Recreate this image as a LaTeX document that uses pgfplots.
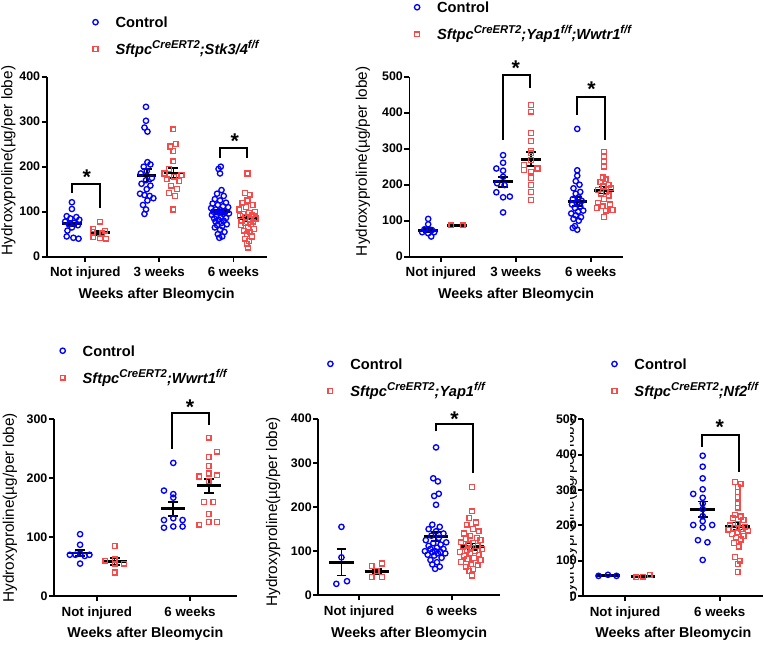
\documentclass[border=0pt]{standalone}
\usepackage{fontspec}
\setmainfont{Liberation Sans}
\usepackage{pgfplots}
\pgfplotsset{compat=1.18}

\definecolor{ctrl}{RGB}{0,0,255}
\definecolor{kored}{RGB}{245,75,75}
\newcommand{\sups}[1]{\raisebox{4.2pt}{\fontsize{8.5}{9}\selectfont #1}}

\tikzset{sig/.style={font=\bfseries\fontsize{16}{16}\selectfont, inner sep=0pt, yshift=-3.4pt}}

\pgfplotsset{
  hp/.style={
    scale only axis,
    anchor=south west,
    axis lines=left,
    axis line style={-, line width=1.3pt},
    tick align=outside,
    major tick length=3.75pt,
    tick style={line width=1.3pt, black},
    ymin=0,
    xtick={0,1,2},
    ticklabel style={font=\bfseries\fontsize{9.3}{10}\selectfont},
    yticklabel style={inner xsep=1pt},
    xticklabel style={font=\bfseries\fontsize{10}{11}\selectfont, inner ysep=4pt},
    /pgf/number format/assume math mode=true,
    xlabel={Weeks after Bleomycin},
    xlabel style={font=\bfseries\fontsize{10.7}{12}\selectfont, at={(axis description cs:0.5,0)}, anchor=center, yshift=-28.5pt},
    ylabel={Hydroxyproline(µg/per lobe)},
    ylabel style={font=\fontsize{11.5}{13}\selectfont, anchor=center},
    clip=false,
    legend cell align=left,
    legend image code/.code={\path[draw=none,fill=none] (-2.5pt,-5pt) rectangle (15pt,5pt); \draw[##1] plot coordinates {(0pt,1pt)};},
    legend style={draw=none, fill=none, anchor=north west, inner sep=0pt,
      font=\bfseries\fontsize{11}{13}\selectfont, row sep=10.25pt,
      nodes={inner sep=0pt, text height=8pt, text depth=2pt}},
  },
  ctl/.style={only marks, mark=o, mark size=2pt, ctrl, line width=1pt},
  kop/.style={only marks, mark=square, mark size=1.8pt, kored, line width=1pt},
  meanl/.style={forget plot, black, line width=2.2pt, mark=none, unbounded coords=jump},
  sembar/.style={forget plot, draw=none, mark=none, error bars/.cd, y dir=both, y explicit, error mark options={rotate=90, mark size=3.7pt, line width=1.2pt, black}, error bar style={line width=1.2pt, black}},
  bracket/.style={forget plot, black, line width=1.5pt, mark=none},
}

\begin{document}
\begin{tikzpicture}
\useasboundingbox (0,0) rectangle (573pt,483pt);

% ---------- panel 1: Stk3/4 ----------
\begin{axis}[hp, at={(35.03pt,290.48pt)}, width=165pt, height=135pt,
  xmin=-0.52, xmax=2.45, ymax=400, ytick={0,100,...,400},
  xticklabels={Not injured,3 weeks,6 weeks},
  ylabel style={at={(axis description cs:-0.1745,0.534)}},
  legend style={at={(axis description cs:0.2055,1.334)}}]
\addplot[ctl] coordinates {
 (-0.18,121) (-0.18,106) (-0.25,90) (-0.12,88) (-0.20,85) (-0.08,82) (-0.27,78) (-0.15,75)
 (-0.22,72) (-0.10,70) (-0.18,65) (-0.24,58) (-0.25,45) (-0.16,42) (-0.09,40)
 (0.82,333) (0.82,302) (0.80,287) (0.84,278) (0.84,210) (0.88,205) (0.79,200) (0.83,190)
 (0.75,185) (0.90,175) (0.82,170) (0.76,162) (0.88,158) (0.83,150) (0.74,140) (0.80,137)
 (0.87,135) (0.92,130) (0.84,125) (0.78,115) (0.82,105) (0.80,95)
 (1.83,200) (1.80,195) (1.82,185) (1.84,148) (1.78,140) (1.87,135) (1.75,128) (1.82,125)
 (1.90,120) (1.72,118) (1.79,115) (1.86,112) (1.93,110) (1.70,108) (1.76,105) (1.83,103)
 (1.89,100) (1.73,100) (1.80,98) (1.94,96) (1.86,95) (1.71,93) (1.77,90) (1.83,88)
 (1.90,86) (1.74,85) (1.80,82) (1.87,80) (1.76,78) (1.84,75) (1.91,72) (1.78,70)
 (1.85,68) (1.75,65) (1.82,60) (1.88,55) (1.79,50) (1.85,45) (1.81,42)};
\addlegendentry{Control}
\addplot[kop] coordinates {
 (0.2,78) (0.11,62) (0.27,58) (0.1,55) (0.23,52) (0.11,43) (0.2,41) (0.28,40)
 (1.19,283) (1.22,250) (1.15,245) (1.19,235) (1.19,212) (1.13,195) (1.07,185) (1.30,182)
 (1.20,178) (1.10,172) (1.27,168) (1.16,158) (1.24,150) (1.13,142) (1.21,135) (1.19,105)
 (2.19,185) (2.16,142) (2.22,138) (2.19,125) (2.12,120) (2.26,115) (2.17,110) (2.08,105)
 (2.29,100) (2.21,98) (2.13,95) (2.25,92) (2.09,90) (2.17,88) (2.30,85) (2.22,83)
 (2.11,80) (2.27,78) (2.16,75) (2.24,72) (2.10,70) (2.20,65) (2.28,62) (2.14,58)
 (2.22,55) (2.18,50) (2.25,45) (2.16,40) (2.21,35) (2.18,28) (2.20,20)};
\addlegendentry{\itshape Sftpc\sups{CreERT2};Stk3/4\sups{f/f}}
\addplot[meanl] coordinates {(-0.31,74) (-0.05,74) (0,nan) (0.70,181) (0.96,181) (0,nan)
 (1.69,100) (1.95,100) (0,nan) (0.07,53) (0.33,53) (0,nan) (1.06,186) (1.32,186) (0,nan)
 (2.06,84) (2.32,84)};
\addplot[sembar] coordinates {(-0.18,74) +- (0,6) (0.83,181) +- (0,14) (1.82,100) +- (0,5)
 (0.2,53) +- (0,5) (1.19,186) +- (0,11) (2.19,84) +- (0,6)};
\addplot[bracket] coordinates {(-0.18,141) (-0.18,161) (0.2,161) (0.2,108)};
\addplot[bracket] coordinates {(1.82,219) (1.82,241) (2.19,241) (2.19,219)};
\node[sig] at (axis cs:0.02,186) {*};
\node[sig] at (axis cs:2.02,267) {*};
\end{axis}

% ---------- panel 2: Yap1;Wwtr1 ----------
\begin{axis}[hp, at={(307.1pt,290.48pt)}, width=160.1pt, height=135pt,
  xmin=-0.42, xmax=2.43, ymax=500, ytick={0,100,...,500},
  xticklabels={Not injured,3 weeks,6 weeks},
  ylabel style={at={(axis description cs:-0.218,0.53)}},
  legend style={at={(axis description cs:0.019,1.417)}}]
\addplot[ctl] coordinates {
 (-0.17,105) (-0.17,90) (-0.22,76) (-0.12,74) (-0.25,68) (-0.09,68) (-0.17,65) (-0.13,56)
 (0.83,282) (0.83,261) (0.74,245) (0.83,239) (0.83,222) (0.75,204) (0.85,199) (0.74,179)
 (0.83,165) (0.92,167) (0.83,123)
 (1.82,355) (1.82,240) (1.82,225) (1.80,210) (1.85,200) (1.77,190) (1.86,180) (1.80,175)
 (1.84,165) (1.76,160) (1.88,155) (1.82,150) (1.75,145) (1.86,140) (1.79,135) (1.90,128)
 (1.83,125) (1.74,120) (1.80,115) (1.87,110) (1.77,105) (1.84,100) (1.79,85) (1.76,80) (1.82,75)};
\addlegendentry{Control}
\addplot[kop] coordinates {
 (0.14,87) (0.29,87)
 (1.2,421) (1.2,403) (1.2,343) (1.2,322) (1.2,294) (1.2,287) (1.2,269) (1.11,255)
 (1.29,245) (1.11,241) (1.2,236) (1.2,218) (1.2,199) (1.2,180) (1.2,157)
 (2.18,292) (2.18,278) (2.18,265) (2.18,250) (2.16,220) (2.20,215) (2.13,208) (2.24,200)
 (2.17,195) (2.27,190) (2.10,185) (2.20,180) (2.14,175) (2.24,170) (2.18,160) (2.10,150)
 (2.26,145) (2.16,140) (2.08,135) (2.29,130) (2.20,128) (2.18,110)};
\addlegendentry{\itshape Sftpc\sups{CreERT2};Yap1\sups{f/f};Wwtr1\sups{f/f}}
\addplot[meanl] coordinates {(-0.30,74) (-0.04,74) (0,nan) (0.70,208) (0.96,208) (0,nan)
 (1.69,153) (1.95,153) (0,nan) (0.085,87) (0.345,87) (0,nan) (1.07,271) (1.33,271) (0,nan)
 (2.05,185) (2.31,185)};
\addplot[sembar] coordinates {(-0.17,74) +- (0,6) (0.83,208) +- (0,14) (1.82,153) +- (0,13)
 (1.2,271) +- (0,19) (2.18,185) +- (0,10)};
\addplot[bracket] coordinates {(0.83,324) (0.83,505) (1.19,505) (1.19,468)};
\addplot[bracket] coordinates {(1.82,394) (1.82,444) (2.19,444) (2.19,324)};
\node[sig] at (axis cs:1.0,537) {*};
\node[sig] at (axis cs:2.01,477) {*};
\end{axis}

% ---------- panel 3: Wwrt1 ----------
\begin{axis}[hp, at={(40.5pt,36pt)}, width=137pt, height=132.5pt,
  xmin=-0.46, xmax=1.5, ymax=300, ytick={0,100,...,300}, xtick={0,1},
  xticklabels={Not injured,6 weeks},
  ylabel style={at={(axis description cs:-0.241,0.5)}},
  legend style={at={(axis description cs:0.028,1.420)}}]
\addplot[ctl] coordinates {
 (-0.18,105) (-0.18,87) (-0.29,70) (-0.23,70) (-0.18,72) (-0.13,68) (-0.08,70) (-0.18,55)
 (0.82,226) (0.72,179) (0.82,173) (0.82,167) (0.72,129) (0.82,132) (0.92,129) (0.72,116)
 (0.82,118) (0.92,118)};
\addlegendentry{Control}
\addplot[kop] coordinates {
 (0.09,60) (0.19,62) (0.29,55) (0.19,55) (0.19,40) (0.19,85)
 (1.2,269) (1.29,245) (1.2,236) (1.2,221) (1.2,208) (1.10,203) (1.29,205) (1.2,195)
 (1.15,160) (1.25,160) (1.2,139) (1.2,126) (1.29,126) (1.10,121)};
\addlegendentry{\itshape Sftpc\sups{CreERT2};Wwrt1\sups{f/f}}
\addplot[meanl] coordinates {(-0.31,73) (-0.05,73) (0,nan) (0.69,148) (0.95,148) (0,nan)
 (0.06,59) (0.32,59) (0,nan) (1.07,187) (1.33,187)};
\addplot[sembar] coordinates {(-0.18,73) +- (0,5) (0.82,148) +- (0,12) (0.19,59) +- (0,6) (1.2,187) +- (0,12)};
\addplot[bracket] coordinates {(0.81,250) (0.81,311) (1.2,311) (1.2,290)};
\node[sig] at (axis cs:1.0,329) {*};
\end{axis}

% ---------- panel 4: Yap1 ----------
\begin{axis}[hp, at={(238.7pt,36.5pt)}, width=136.3pt, height=132.5pt,
  xmin=-0.44, xmax=1.52, ymax=400, ytick={0,100,...,400}, xtick={0,1},
  xticklabels={Not injured,6 weeks},
  ylabel style={at={(axis description cs:-0.248,0.473)}},
  legend style={at={(axis description cs:0.047,1.342)}}]
\addplot[ctl] coordinates {
 (-0.19,155) (-0.19,86) (-0.245,26) (-0.13,32)
 (0.83,335) (0.80,265) (0.85,258) (0.86,230) (0.81,225) (0.83,205) (0.79,160) (0.87,155)
 (0.75,150) (0.83,145) (0.91,140) (0.78,135) (0.86,130) (0.72,125) (0.94,120) (0.80,118)
 (0.88,115) (0.75,112) (0.84,108) (0.91,105) (0.77,105) (0.82,100) (0.71,100) (0.88,98)
 (0.79,98) (0.93,95) (0.85,95) (0.74,92) (0.81,90) (0.89,85) (0.77,80) (0.84,75)
 (0.79,70) (0.87,65) (0.82,60)};
\addlegendentry{Control}
\addplot[kop] coordinates {
 (0.135,66) (0.245,72) (0.19,55) (0.135,42) (0.245,42)
 (1.22,245) (1.22,190) (1.19,175) (1.26,165) (1.16,160) (1.23,150) (1.29,145) (1.13,140)
 (1.20,135) (1.27,130) (1.15,128) (1.31,125) (1.10,120) (1.23,118) (1.18,115) (1.28,112)
 (1.12,110) (1.21,108) (1.33,105) (1.16,102) (1.25,100) (1.09,98) (1.20,95) (1.29,92)
 (1.13,90) (1.24,85) (1.17,82) (1.31,80) (1.10,75) (1.21,70) (1.28,68) (1.15,65)
 (1.23,60) (1.19,55) (1.22,45)};
\addlegendentry{\itshape Sftpc\sups{CreERT2};Yap1\sups{f/f}}
\addplot[meanl] coordinates {(-0.32,75) (-0.06,75) (0,nan) (0.70,133) (0.96,133) (0,nan)
 (0.06,54) (0.32,54) (0,nan) (1.09,110) (1.35,110)};
\addplot[sembar] coordinates {(-0.19,75) +- (0,30) (0.83,133) +- (0,10) (0.19,54) +- (0,6) (1.22,110) +- (0,7)};
\addplot[bracket] coordinates {(0.83,371) (0.83,388) (1.23,388) (1.23,278)};
\node[sig] at (axis cs:1.03,409) {*};
\end{axis}

% ---------- panel 5: Nf2 ----------
\begin{axis}[hp, at={(437.5pt,36pt)}, width=135pt, height=132.5pt,
  xmin=-0.44, xmax=1.46, ymax=500, ytick={0,100,...,500}, xtick={0,1},
  xticklabels={Not injured,6 weeks}, ylabel={},
  legend style={at={(axis description cs:0.153,1.345)}}]
\addplot[ctl] coordinates {
 (-0.28,57) (-0.18,60) (-0.09,57)
 (0.82,397) (0.82,366) (0.82,333) (0.82,302) (0.72,289) (0.82,278) (0.82,262) (0.82,246)
 (0.82,226) (0.82,212) (0.72,201) (0.92,201) (0.82,194) (0.77,158) (0.87,152) (0.82,102)};
\addlegendentry{Control}
\addplot[kop] coordinates {
 (0.12,53) (0.19,55) (0.26,59)
 (1.16,322) (1.22,318) (1.19,308) (1.19,295) (1.19,280) (1.19,262) (1.19,250) (1.16,230)
 (1.22,225) (1.14,220) (1.25,215) (1.19,205) (1.11,200) (1.27,195) (1.15,192) (1.23,190)
 (1.09,188) (1.30,185) (1.19,180) (1.13,175) (1.25,170) (1.17,165) (1.22,160) (1.15,150)
 (1.20,140) (1.16,110) (1.21,100) (1.19,90) (1.19,68)};
\addlegendentry{\itshape Sftpc\sups{CreERT2};Nf2\sups{f/f}}
\addplot[meanl] coordinates {(-0.31,58) (-0.05,58) (0,nan) (0.69,245) (0.95,245) (0,nan)
 (0.06,56) (0.32,56) (0,nan) (1.06,198) (1.32,198)};
\addplot[sembar] coordinates {(0.82,245) +- (0,22) (1.19,198) +- (0,10)};
\addplot[bracket] coordinates {(0.81,421) (0.81,457) (1.2,457) (1.2,352)};
\node[sig] at (axis cs:1.0,490) {*};
\end{axis}
\begin{scope}
\clip (427.5pt,0pt) rectangle (437pt,483pt);
\node[rotate=90, font=\fontsize{11.5}{13}\selectfont, anchor=center] at (427.5pt,102pt) {Hydroxyproline(µg/per lobe)};
\end{scope}
\end{tikzpicture}
\end{document}
